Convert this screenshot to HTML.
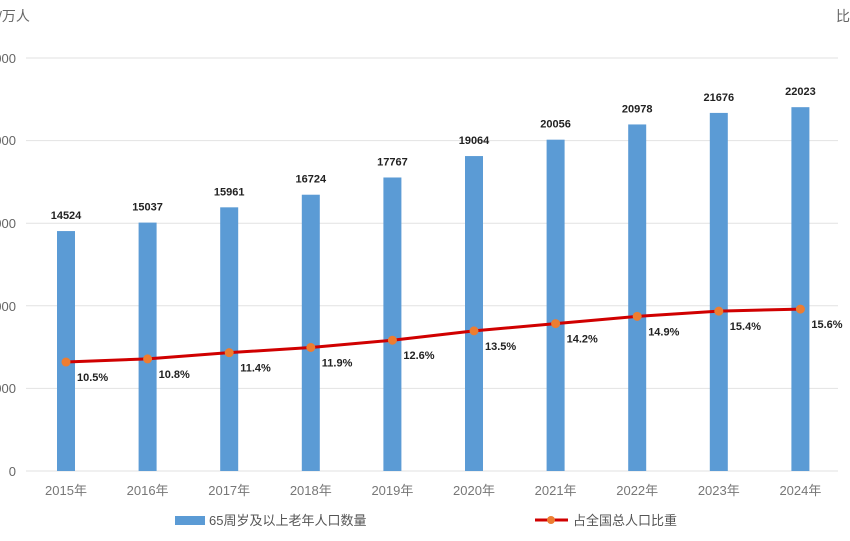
<!DOCTYPE html>
<html><head><meta charset="utf-8"><style>
body{margin:0;background:#fff;width:850px;height:536px;overflow:hidden}
svg text{font-family:"Liberation Sans","Noto Sans CJK SC",sans-serif}
</style></head><body>
<svg width="850" height="536" xmlns="http://www.w3.org/2000/svg">
<text x="-2" y="21" font-size="14" fill="#666">/万人</text>
<text x="836" y="21" font-size="14" fill="#666">比</text>
<g stroke="#e2e2e2" stroke-width="1">
<line x1="26" y1="58" x2="838" y2="58"/><line x1="26" y1="140.6" x2="838" y2="140.6"/>
<line x1="26" y1="223.2" x2="838" y2="223.2"/><line x1="26" y1="305.8" x2="838" y2="305.8"/>
<line x1="26" y1="388.4" x2="838" y2="388.4"/><line x1="26" y1="471" x2="838" y2="471"/>
</g>
<g font-size="13" fill="#666" text-anchor="end">
<text x="16" y="63">000</text><text x="16" y="145">000</text><text x="16" y="228">000</text>
<text x="16" y="311">000</text><text x="16" y="393">000</text><text x="16" y="476">0</text>
</g>
<g id="bars" fill="#5b9bd5"></g>
<g id="vals" font-size="11" font-weight="bold" fill="#222" text-anchor="middle"></g>
<g id="xl" font-size="13" fill="#777" text-anchor="middle" style="font-family:'Liberation Serif','Noto Serif CJK SC',serif"></g>
<polyline id="ln" fill="none" stroke="#d00000" stroke-width="3"/>
<g id="mk" fill="#ed7d31"></g>
<g id="pl" font-size="11" font-weight="bold" fill="#222"></g>
<rect x="175" y="516" width="30" height="9" fill="#5b9bd5"/>
<text x="209" y="525" font-size="13" fill="#555">65周岁及以上老年人口数量</text>
<line x1="535" y1="520" x2="568" y2="520" stroke="#d00000" stroke-width="3"/>
<circle cx="551" cy="520" r="4" fill="#ed7d31"/>
<text x="573" y="525" font-size="13" fill="#555">占全国总人口比重</text>
</svg>
<script>
(function(){
var v=[14524,15037,15961,16724,17767,19064,20056,20978,21676,22023],
p=[10.5,10.8,11.4,11.9,12.6,13.5,14.2,14.9,15.4,15.6],ns="http://www.w3.org/2000/svg",pts=[];
function el(g,t,a,tx){var e=document.createElementNS(ns,t);for(var k in a)e.setAttribute(k,a[k]);if(tx)e.textContent=tx;document.getElementById(g).appendChild(e);}
for(var i=0;i<10;i++){var cx=66+i*81.6,by=471-v[i]/5000*82.6,py=471-p[i]*10.38;
el("bars","rect",{x:cx-9,y:by,width:18,height:471-by});
el("vals","text",{x:cx,y:by-12},""+v[i]);
el("xl","text",{x:cx,y:495},(2015+i)+"年");
pts.push(cx+","+py);
el("mk","circle",{cx:cx,cy:py,r:4.5});
el("pl","text",{x:cx+11,y:py+19},p[i].toFixed(1)+"%");}
document.getElementById("ln").setAttribute("points",pts.join(" "));
})();
</script>
</body></html>
